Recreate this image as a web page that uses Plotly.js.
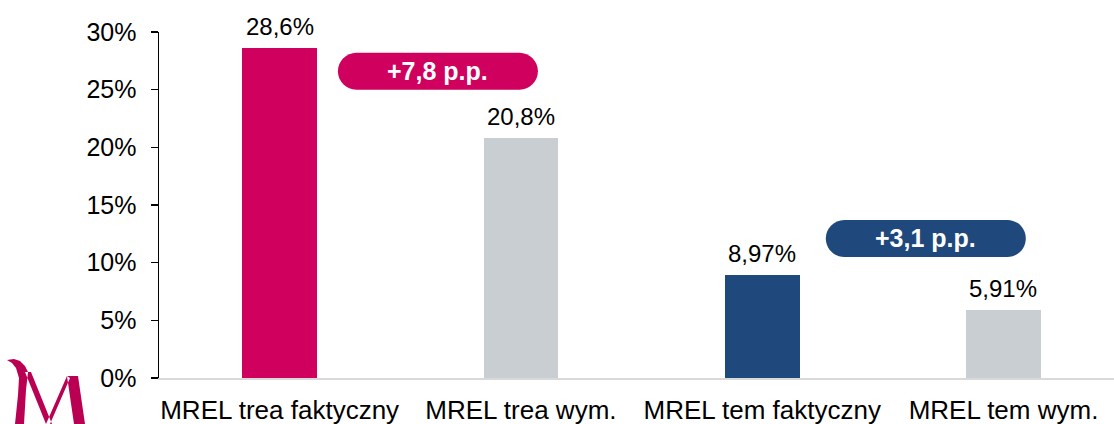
<!DOCTYPE html>
<html>
<head>
<meta charset="utf-8">
<script src="https://cdn.plot.ly/plotly-3.0.1.min.js"></script>
<style>
  html, body { margin: 0; padding: 0; background: #fff; }
  #chart { width: 1114px; height: 424px; }
</style>
</head>
<body>
<div id="chart"></div>
<script>
const categories = ["MREL trea faktyczny", "MREL trea wym.", "MREL tem faktyczny", "MREL tem wym."];
const values = [28.6, 20.8, 8.97, 5.91];
const barColors = ["#D0005F", "#C9CED3", "#1F497D", "#C9CED3"];
const yTickValues = [0, 5, 10, 15, 20, 25, 30];
const yTickLabels = ["0%", "5%", "10%", "15%", "20%", "25%", "30%"];
// pairs compared in the pills: [actual index, required index]
const diffPairs = [[0, 1], [2, 3]];
const pillColors = ["#D0005F", "#1F497D"];

const FONT = "Liberation Sans, Arial, sans-serif";
const fmt = v => String(v).replace('.', ',') + '%';

const trace = {
  type: 'bar',
  x: categories,
  y: values,
  marker: { color: barColors },
  width: 0.31,
  hoverinfo: 'none'
};

const annotations = categories.map((c, i) => ({
  x: c, y: values[i], xref: 'x', yref: 'y',
  text: fmt(values[i]), showarrow: false,
  yanchor: 'bottom', yshift: 6,
  font: { family: FONT, size: 24, color: '#000' }
}));

const shapes = [];
// pill geometry (pixels)
const pw = 200, ph = 37, r = ph / 2, k = r * 0.5523;
const hx = pw / 2 - r;
const pillPath =
  `M ${-hx},${-r} L ${hx},${-r} C ${hx + k},${-r} ${pw/2},${-k} ${pw/2},0 ` +
  `C ${pw/2},${k} ${hx + k},${r} ${hx},${r} L ${-hx},${r} ` +
  `C ${-hx - k},${r} ${-pw/2},${k} ${-pw/2},0 C ${-pw/2},${-k} ${-hx - k},${-r} ${-hx},${-r} Z`;

const pillY = [26.6, 12.1];
const pillDx = [0.656, 0.678];
diffPairs.forEach((p, j) => {
  const d = values[p[0]] - values[p[1]];
  const txt = '+' + d.toFixed(1).replace('.', ',') + ' p.p.';
  const xc = p[0] + pillDx[j];
  shapes.push({
    type: 'path', xref: 'x', yref: 'y',
    xsizemode: 'pixel', ysizemode: 'pixel',
    xanchor: xc, yanchor: pillY[j],
    path: pillPath,
    fillcolor: pillColors[j], line: { width: 0 }
  });
  annotations.push({
    x: xc, y: pillY[j], xref: 'x', yref: 'y',
    text: '<b>' + txt + '</b>', showarrow: false,
    font: { family: FONT, size: 25, color: '#fff' }
  });
});

// logo (drawn in page pixels, top-left origin, converted to anchor-relative)
const logoPolys = [
  [[7,360],[14,359],[20,361],[25,366],[28,372],[26,390],[24,424],[15,424],[18,395],[19,378],[16,368],[12,363]],
  [[25,372],[31,372],[52,424],[46,424]],
  [[46,424],[67,376],[70,378],[50,424]],
  [[67,376],[78,376],[85,424],[74,424]]
];
const logoPath = logoPolys.map(poly =>
  poly.map((pt, i) => (i === 0 ? 'M ' : 'L ') + pt[0] + ',' + (424 - pt[1])).join(' ') + ' Z'
).join(' ');
shapes.push({
  type: 'path', xref: 'paper', yref: 'paper',
  xsizemode: 'pixel', ysizemode: 'pixel',
  xanchor: (0 - 159) / 955, yanchor: (378 - 424) / 346,
  path: logoPath, fillcolor: '#BA0052', line: { width: 0 }
});

const layout = {
  width: 1114, height: 424,
  margin: { l: 159, r: 0, t: 32, b: 46 },
  paper_bgcolor: '#fff', plot_bgcolor: '#fff',
  showlegend: false,
  bargap: 0,
  xaxis: {
    type: 'category',
    range: [-0.5, 3.458],
    showline: true, linecolor: '#D9D9D9', linewidth: 2,
    ticks: '', showgrid: false, zeroline: false,
    ticklabelstandoff: 8,
    tickfont: { family: FONT, size: 26, color: '#000' },
    fixedrange: true
  },
  yaxis: {
    range: [0, 30],
    tickvals: yTickValues, ticktext: yTickLabels,
    showline: true, linecolor: '#000', linewidth: 1.5,
    ticks: 'outside', ticklen: 7, tickcolor: '#000', tickwidth: 1.5,
    ticklabelstandoff: 9,
    showgrid: false, zeroline: false,
    tickfont: { family: FONT, size: 25, color: '#000' },
    fixedrange: true
  },
  annotations: annotations,
  shapes: shapes
};

Plotly.newPlot('chart', [trace], layout, { displayModeBar: false, staticPlot: true });
</script>
</body>
</html>
